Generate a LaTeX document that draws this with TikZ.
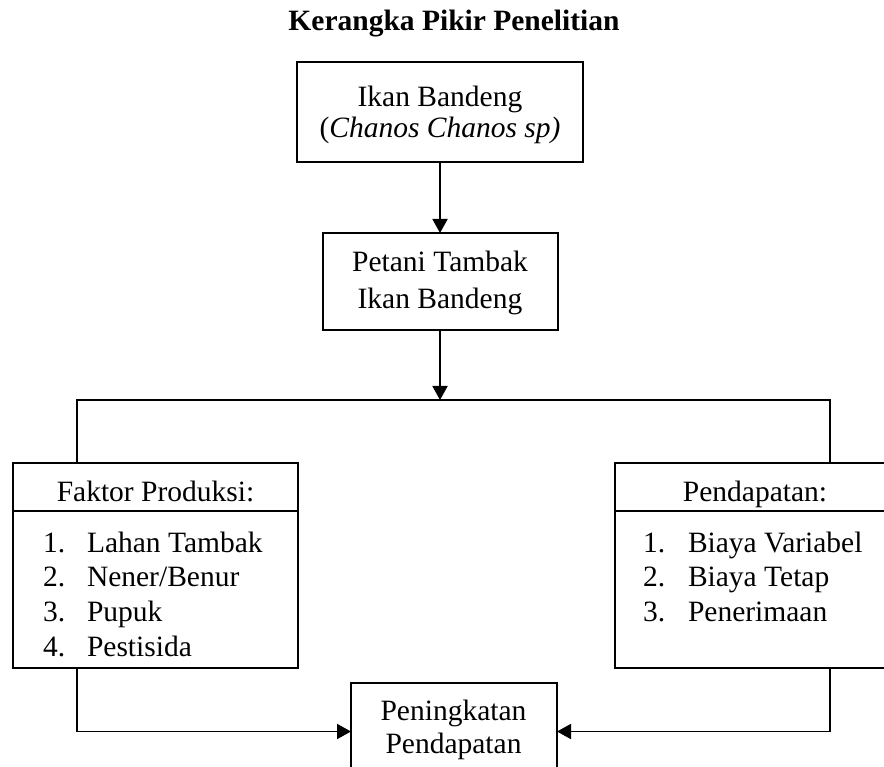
\documentclass[tikz,border=0pt]{standalone}
\usepackage{fontspec}
\setmainfont{Liberation Serif}
\usetikzlibrary{arrows.meta}
\tikzset{
  box/.style={draw, rectangle, line width=1.9pt, inner sep=0pt, outer sep=0pt},
  txt/.style={inner sep=0pt, outer sep=0pt, font=\fontsize{29.5pt}{35pt}\selectfont},
  conn/.style={line width=1.9pt},
  arr/.style={conn, -{Triangle[width=15pt,length=14pt]}},
}
\begin{document}
\begin{tikzpicture}[x=1pt,y=-1pt]
\useasboundingbox (0,0) rectangle (884,767);
% title
\node[txt, anchor=base, font=\fontsize{29.5pt}{35pt}\selectfont\bfseries] (title) at (454,31) {Kerangka Pikir Penelitian};
% boxes
\node[box, minimum width=286pt, minimum height=100pt] (b1) at (440,112) {};
\node[box, minimum width=235pt, minimum height=97pt] (b2) at (440.5,281.5) {};
\node[box, minimum width=285pt, minimum height=48pt] (fph) at (155.5,487) {};
\node[box, minimum width=285pt, minimum height=157pt] (fpl) at (155.5,589.5) {};
\node[box, minimum width=285pt, minimum height=48pt] (pdh) at (757.5,487) {};
\node[box, minimum width=285pt, minimum height=157pt] (pdl) at (757.5,589.5) {};
\node[box, minimum width=206pt, minimum height=97pt] (pp) at (454,731.5) {};
% texts
\node[txt, anchor=base] (t1a) at (440,106.5) {Ikan Bandeng};
\node[txt, anchor=base] (t1b) at (440,138) {(\textit{Chanos Chanos sp)}};
\node[txt, anchor=base] (t2a) at (440,271.7) {Petani Tambak};
\node[txt, anchor=base] (t2b) at (440,308.3) {Ikan Bandeng};
\node[txt, anchor=base] (tfh) at (155.5,501) {Faktor Produksi:};
\node[txt, anchor=base] (tph) at (755,501) {Pendapatan:};
\node[txt, anchor=base west] (fn1) at (43,552) {1.};
\node[txt, anchor=base west] (fi1) at (87,552) {Lahan Tambak};
\node[txt, anchor=base west] (fn2) at (43,586.7) {2.};
\node[txt, anchor=base west] (fi2) at (87,586.7) {Nener/Benur};
\node[txt, anchor=base west] (fn3) at (43,621.3) {3.};
\node[txt, anchor=base west] (fi3) at (87,621.3) {Pupuk};
\node[txt, anchor=base west] (fn4) at (43,656) {4.};
\node[txt, anchor=base west] (fi4) at (87,656) {Pestisida};
\node[txt, anchor=base west] (pn1) at (643,552) {1.};
\node[txt, anchor=base west] (pi1) at (688,552) {Biaya Variabel};
\node[txt, anchor=base west] (pn2) at (643,586.7) {2.};
\node[txt, anchor=base west] (pi2) at (688,586.7) {Biaya Tetap};
\node[txt, anchor=base west] (pn3) at (643,621.3) {3.};
\node[txt, anchor=base west] (pi3) at (688,621.3) {Penerimaan};
\node[txt, anchor=base] (tpa) at (453.5,720) {Peningkatan};
\node[txt, anchor=base] (tpb) at (453.5,753) {Pendapatan};
% connectors
\coordinate (j) at (440,400);
\coordinate (hl) at (77,400);
\coordinate (hr) at (830,400);
\draw[arr] (b1.south) -- (b1.south |- b2.north);
\draw[arr] (b1.south |- b2.south) -- (j);
\draw[conn] (fph.north -| hl) -- (hl) -- (hr) -- (pdh.north -| hr);
\draw[arr] (fpl.south -| hl) -- (hl |- pp.west) -- (pp.west);
\draw[arr] (pdl.south -| hr) -- (hr |- pp.east) -- (pp.east);
\end{tikzpicture}
\end{document}
